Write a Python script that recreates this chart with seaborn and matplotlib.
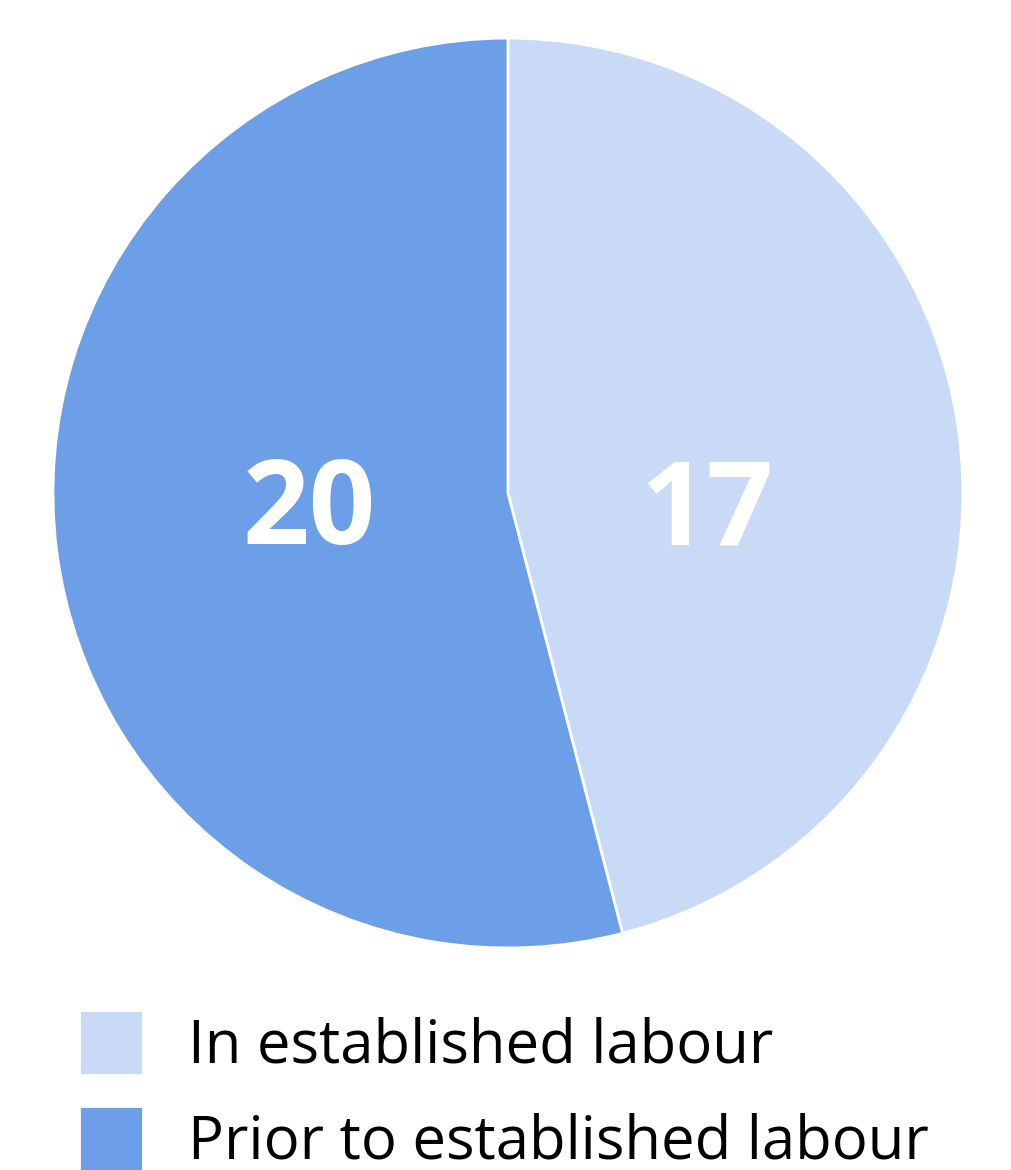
import matplotlib
matplotlib.use("Agg")
import matplotlib.pyplot as plt
import seaborn as sns

categories = ["In established labour", "Prior to established labour"]
values = [17, 20]
colors = ["#C9DAF6", "#6D9EE8"]

sns.set_theme(style="white")
plt.rcParams['font.family'] = ['Open Sans', 'DejaVu Sans']

fig = plt.figure(figsize=(10.11, 11.7), dpi=100)
ax = fig.add_axes([0.0524, 0.1897, 0.900, 0.7778])
wedges, texts, autotexts = ax.pie(
    values, colors=colors, startangle=90, counterclock=False,
    autopct=lambda p: f"{round(p * sum(values) / 100):d}", pctdistance=0.44,
    wedgeprops=dict(edgecolor="white", linewidth=2),
    textprops=dict(color="white", fontsize=84, fontweight="bold"))
# labels sit on one horizontal line, as in the reference
for t in autotexts:
    x, _ = t.get_position()
    t.set_position((x, -0.046))
ax.set_xlim(-1, 1)
ax.set_ylim(-1, 1)
ax.set_aspect("equal")
ax.axis("off")

leg = fig.legend(wedges, categories, loc="upper left",
                 bbox_to_anchor=(0.078, 0.137), frameon=False,
                 fontsize=43, handlelength=1.08, handleheight=1.3,
                 handletextpad=0.75, labelspacing=0.5, borderpad=0,
                 borderaxespad=0)
for t in leg.get_texts():
    t.set_color("black")

fig.savefig("out.png", dpi=100, facecolor="white")
